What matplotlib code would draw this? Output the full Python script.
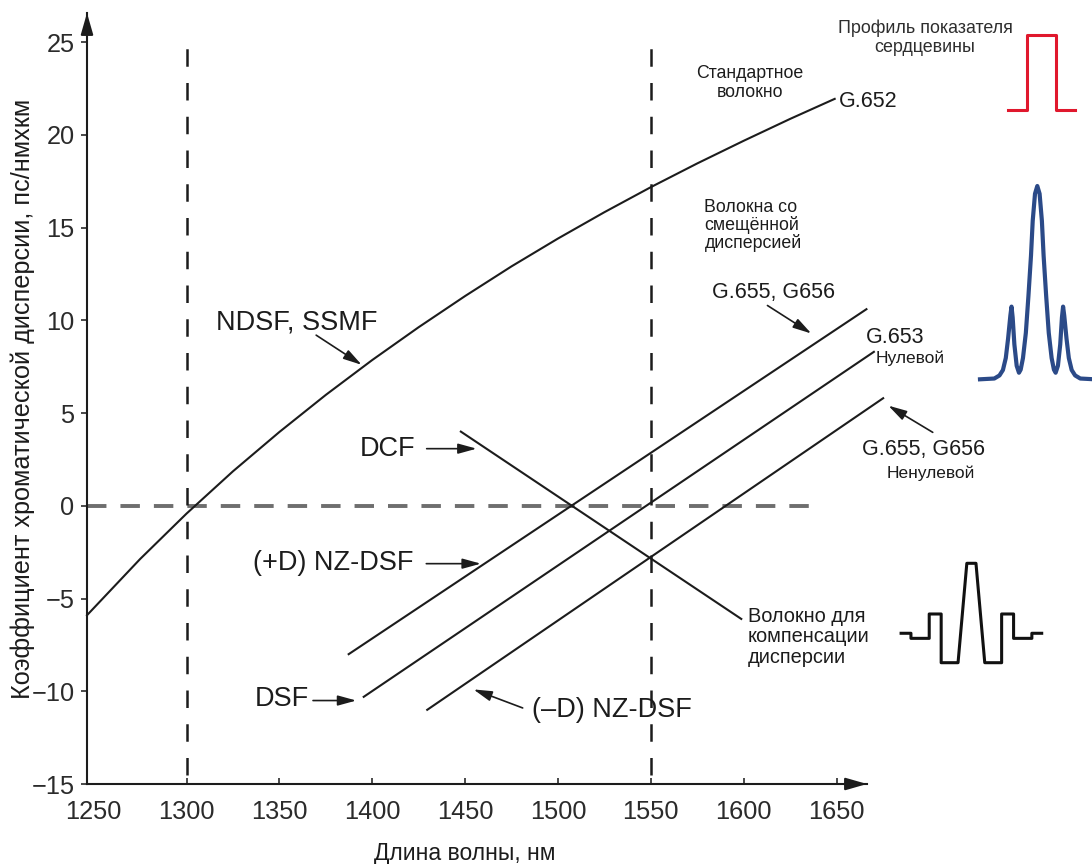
import matplotlib.pyplot as plt

plt.rcParams['font.family'] = ['Liberation Sans', 'DejaVu Sans']

# стандартное волокно (NDSF/SSMF, G.652), пс/(нм*км)
ssmf_wl = [1246.4, 1275, 1300, 1325, 1350, 1375, 1400, 1425, 1450,
           1475, 1500, 1525, 1550, 1575, 1600, 1625, 1649]
ssmf_d = [-5.9, -2.87, -0.42, 1.86, 3.98, 5.98, 7.86, 9.63, 11.31,
          12.91, 14.41, 15.83, 17.18, 18.46, 19.68, 20.86, 21.94]

# прямые: концы отрезков
nzdsf_plus_wl = [1387.3, 1666.1]
nzdsf_plus_d = [-8.0, 10.6]
dsf_wl = [1395.4, 1670.1]
dsf_d = [-10.3, 8.3]
nzdsf_minus_wl = [1429.6, 1675.1]
nzdsf_minus_d = [-11.0, 5.8]
dcf_wl = [1447.7, 1598.7]
dcf_d = [4.0, -6.1]

# окна прозрачности
window_wl = [1300, 1550]

xticks = [1250, 1300, 1350, 1400, 1450, 1500, 1550, 1600, 1650]
yticks = [-15, -10, -5, 0, 5, 10, 15, 20, 25]

# профили показателя преломления (нормированные)
step_x = [0, 0.28, 0.28, 0.72, 0.72, 1.0]
step_n = [0, 0, 1, 1, 0, 0]

shifted_x = [-1.0, -0.75, -0.66, -0.60, -0.55, -0.51, -0.47, -0.45, -0.43, -0.40,
             -0.36, -0.32, -0.29, -0.25, -0.20, -0.155, -0.11, -0.08, -0.04, 0,
             0.04, 0.08, 0.11, 0.155, 0.20, 0.25, 0.29, 0.32, 0.36, 0.40,
             0.43, 0.45, 0.47, 0.51, 0.55, 0.60, 0.66, 0.75, 1.0]
shifted_n = [0, 0.004, 0.02, 0.048, 0.11, 0.21, 0.33, 0.376, 0.32, 0.18,
             0.07, 0.034, 0.05, 0.11, 0.24, 0.43, 0.64, 0.82, 0.96, 1.0,
             0.96, 0.82, 0.64, 0.43, 0.24, 0.11, 0.05, 0.034, 0.07, 0.18,
             0.32, 0.376, 0.33, 0.21, 0.11, 0.048, 0.02, 0.004, 0]

dcf_x = [-1.0, -0.86, -0.86, -0.60, -0.60, -0.43, -0.43, -0.19, -0.065,
         0.065, 0.19, 0.43, 0.43, 0.60, 0.60, 0.86, 0.86, 1.0]
dcf_n = [0.296, 0.296, 0.245, 0.245, 0.49, 0.49, 0, 0, 1,
         1, 0, 0, 0.49, 0.49, 0.245, 0.245, 0.296, 0.296]

ink = '#1c1c1c'
W, H = 1092, 864

fig = plt.figure(figsize=(W / 100, H / 100), dpi=100)
ax = fig.add_axes([87 / W, 80 / H, 780 / W, 771 / H])

ax.plot([1246.4, 1640.9], [0, 0], color='#6e6e6e', lw=2.8, dashes=(5, 3.6), zorder=1)
for wl in window_wl:
    ax.plot([wl, wl], [-14.5, 25.2], color=ink, lw=1.8, dashes=(7, 6.5), zorder=1)

ax.plot(ssmf_wl, ssmf_d, color=ink, lw=1.5, clip_on=False, zorder=3)
for wl, d in [(nzdsf_plus_wl, nzdsf_plus_d), (dsf_wl, dsf_d),
              (nzdsf_minus_wl, nzdsf_minus_d), (dcf_wl, dcf_d)]:
    ax.plot(wl, d, color=ink, lw=1.5, clip_on=False, zorder=3)

ax.set_xlim(1246.4, 1666.4)
ax.set_ylim(-15, 26.57)
ax.spines[['top', 'right']].set_visible(False)
ax.spines[['left', 'bottom']].set_linewidth(1.5)
ax.spines[['left', 'bottom']].set_color(ink)
ax.set_xticks(xticks)
ax.set_yticks(yticks)
ax.tick_params(axis='x', direction='in', length=4, width=1.2, pad=11.5,
               labelsize=18.3, colors='#2b2b2b')
ax.tick_params(axis='y', direction='out', length=4, width=1.2, pad=5,
               labelsize=18.3, colors='#2b2b2b')
# первая риска совпадает с осью ординат
ax.xaxis.get_major_ticks()[0].tick1line.set_visible(False)

# стрелки на концах осей
axis_arrow = dict(arrowstyle='-|>,head_length=0.87,head_width=0.25',
                  mutation_scale=15, color=ink, lw=1.5, shrinkA=0, shrinkB=0)
ax.annotate('', xy=(1, 0), xytext=(0.97, 0), xycoords='axes fraction',
            arrowprops=axis_arrow, annotation_clip=False)
ax.annotate('', xy=(0, 1), xytext=(0, 0.97), xycoords='axes fraction',
            arrowprops=axis_arrow, annotation_clip=False)

ax.set_xlabel('Длина волны, нм', fontsize=16.5, color=ink, va='center')
ax.xaxis.set_label_coords(0.4846, -0.090)
ax.set_ylabel('Коэффициент хроматической дисперсии, пс/нмхкм', fontsize=18.2,
              color=ink, va='center')
ax.yaxis.set_label_coords(-0.083, 0.50)

pointer = dict(arrowstyle='-|>,head_length=0.8,head_width=0.22',
               mutation_scale=14, color=ink, lw=1.2, shrinkA=0, shrinkB=0)


def arrow(tail, head):
    ax.annotate('', xy=head, xytext=tail, arrowprops=pointer, annotation_clip=False)


big = dict(fontsize=19.5, color=ink, ha='center', va='center')
ax.text(1359.6, 9.9, 'NDSF, SSMF', **big)
arrow((1369.8, 9.2), (1394.3, 7.6))
ax.text(1408.2, 3.08, 'DCF', **big)
arrow((1429.3, 3.08), (1456.2, 3.08))
ax.text(1378.8, -3.1, '(+D) NZ-DSF', **big)
arrow((1429.1, -3.12), (1458.5, -3.12))
ax.text(1351.3, -10.44, 'DSF', **big)
arrow((1368.1, -10.5), (1391.4, -10.5))
ax.text(1529.3, -11.0, '(–D) NZ-DSF', **big)
arrow((1481.0, -10.9), (1454.5, -9.9))

mid = dict(fontsize=15.5, color=ink, va='center', clip_on=False)
small = dict(fontsize=12.5, color=ink, va='center', clip_on=False)
ax.text(1651.5, 21.8, 'G.652', ha='left', **mid)
ax.text(1616.2, 11.5, 'G.655, G656', ha='center', **mid)
arrow((1612.8, 10.8), (1636.4, 9.29))
ax.text(1681.8, 9.07, 'G.653', ha='center', **mid)
ax.text(1689.9, 7.94, 'Нулевой', ha='center', **small)
ax.text(1696.9, 3.02, 'G.655, G656', ha='center', **mid)
ax.text(1700.5, 1.78, 'Ненулевой', ha='center', **small)
arrow((1701.8, 3.96), (1677.9, 5.4))

ax.text(1603.3, 22.8, 'Стандартное\nволокно', ha='center', multialignment='center',
        linespacing=1.15, fontsize=12.8, color=ink, va='center')
ax.text(1578.9, 15.13, 'Волокна со\nсмещённой\nдисперсией', ha='left',
        linespacing=1.0, fontsize=12.8, color=ink, va='center')
ax.text(1602.3, -7.07, 'Волокно для\nкомпенсации\nдисперсии', ha='left',
        linespacing=1.12, fontsize=14.4, color=ink, va='center', clip_on=False)

fig.text(925 / W, 1 - 38 / H, 'Профиль показателя\nсердцевины', ha='center',
         va='center', multialignment='center', linespacing=1.15,
         fontsize=12.9, color='#2e2e2e')

# профили показателя преломления сердцевины
prof_step = fig.add_axes([1008 / W, 1 - 110 / H, 67 / W, 75 / H])
prof_step.plot(step_x, step_n, color='#e0182d', lw=2.2, clip_on=False)
prof_step.set_xlim(0, 1)
prof_step.set_ylim(0, 1)
prof_step.axis('off')

prof_shift = fig.add_axes([980 / W, 1 - 379.3 / H, 114.6 / W, 193.3 / H])
prof_shift.plot(shifted_x, shifted_n, color='#2b4a88', lw=3, clip_on=False,
                solid_joinstyle='round')
prof_shift.set_xlim(-1, 1)
prof_shift.set_ylim(0, 1)
prof_shift.axis('off')

prof_dcf = fig.add_axes([901.1 / W, 1 - 662.7 / H, 140.6 / W, 99.4 / H])
prof_dcf.plot(dcf_x, dcf_n, color='#111111', lw=2.2, clip_on=False)
prof_dcf.set_xlim(-1, 1)
prof_dcf.set_ylim(0, 1)
prof_dcf.axis('off')

fig.savefig('out.png', dpi=100)
